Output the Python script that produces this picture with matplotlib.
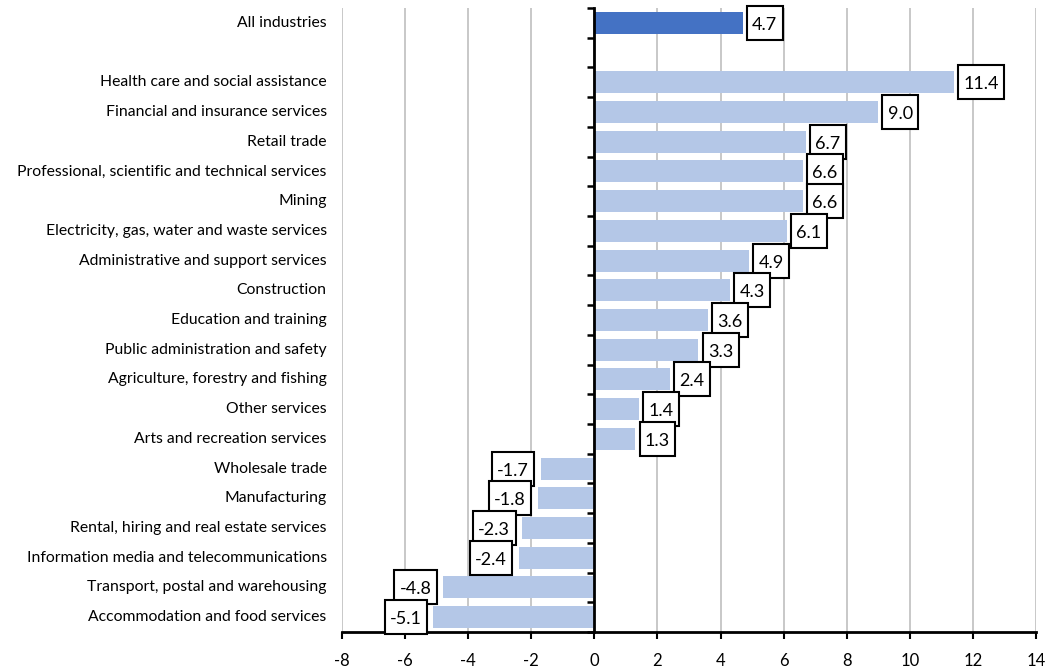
import matplotlib
matplotlib.use("Agg")
import matplotlib.pyplot as plt
from matplotlib.path import Path
from matplotlib.transforms import blended_transform_factory

plt.rcParams['font.family'] = ['Lato', 'DejaVu Sans']

categories = [
    "All industries",
    "",
    "Health care and social assistance",
    "Financial and insurance services",
    "Retail trade",
    "Professional, scientific and technical services",
    "Mining",
    "Electricity, gas, water and waste services",
    "Administrative and support services",
    "Construction",
    "Education and training",
    "Public administration and safety",
    "Agriculture, forestry and fishing",
    "Other services",
    "Arts and recreation services",
    "Wholesale trade",
    "Manufacturing",
    "Rental, hiring and real estate services",
    "Information media and telecommunications",
    "Transport, postal and warehousing",
    "Accommodation and food services",
]
values = [4.7, None, 11.4, 9.0, 6.7, 6.6, 6.6, 6.1, 4.9, 4.3, 3.6, 3.3, 2.4,
          1.4, 1.3, -1.7, -1.8, -2.3, -2.4, -4.8, -5.1]
x_ticks = [-8, -6, -4, -2, 0, 2, 4, 6, 8, 10, 12, 14]

dark = "#4472C4"
light = "#B4C7E7"

PADX = 0.30
PADY = 0.50
SHIFT = 0.11


def label_box(x0, y0, width, height, mutation_size):
    px = PADX * mutation_size
    py = PADY * mutation_size
    s = SHIFT * mutation_size
    a, b = x0 - px, y0 - (py - s)
    c, d = x0 + width + px, y0 + height + py + s
    return Path([(a, b), (c, b), (c, d), (a, d), (a, b)], closed=True)


fig = plt.figure(figsize=(10.61, 6.69), dpi=100)
ax = fig.add_axes([342/1061, 1 - 632/669, (1036-342)/1061, (632-8)/669])

fs = 13
padpt = PADX * fs
dy = -SHIFT * fs
for i, (cat, v) in enumerate(zip(categories, values)):
    if v is None:
        continue
    color = dark if i == 0 else light
    ax.barh(i, v, height=0.74, color=color, zorder=2)
    box = dict(boxstyle=label_box, fc="white", ec="black", lw=1.5)
    if v >= 0:
        ax.annotate(f"{v:.1f}", xy=(v, i), xytext=(padpt + 3, dy), textcoords="offset points",
                    ha="left", va="center", fontsize=fs, zorder=4, bbox=box)
    else:
        ax.annotate(f"{v:.1f}", xy=(v, i), xytext=(-padpt - 4.5, dy), textcoords="offset points",
                    ha="right", va="center", fontsize=fs, zorder=4, bbox=box)

trans = blended_transform_factory(ax.transAxes, ax.transData)
for i, cat in enumerate(categories):
    if cat:
        ax.text(-0.022, i, cat, transform=trans, ha="right", va="center", fontsize=11.3)

ax.set_xlim(-8, 14)
ax.set_ylim(len(categories) - 0.5, -0.5)
ax.set_xticks(x_ticks)
ax.set_xticklabels([str(t) for t in x_ticks], fontsize=12)
ax.tick_params(axis="x", direction="out", length=5, width=1.5, pad=10)
ax.xaxis.grid(True, color="#BFBFBF", lw=1.2, zorder=0)
ax.set_axisbelow(True)

ax.set_yticks([])
ax.set_yticks([i + 0.5 for i in range(-1, len(categories))], minor=True)
ax.tick_params(axis="y", which="minor", direction="out", length=5, width=1.8, labelleft=False)

ax.spines["left"].set_position(("data", 0))
ax.spines["left"].set_linewidth(2)
ax.spines["bottom"].set_linewidth(2)
ax.spines["right"].set_visible(False)
ax.spines["top"].set_visible(False)

fig.savefig("out.png", dpi=100)
